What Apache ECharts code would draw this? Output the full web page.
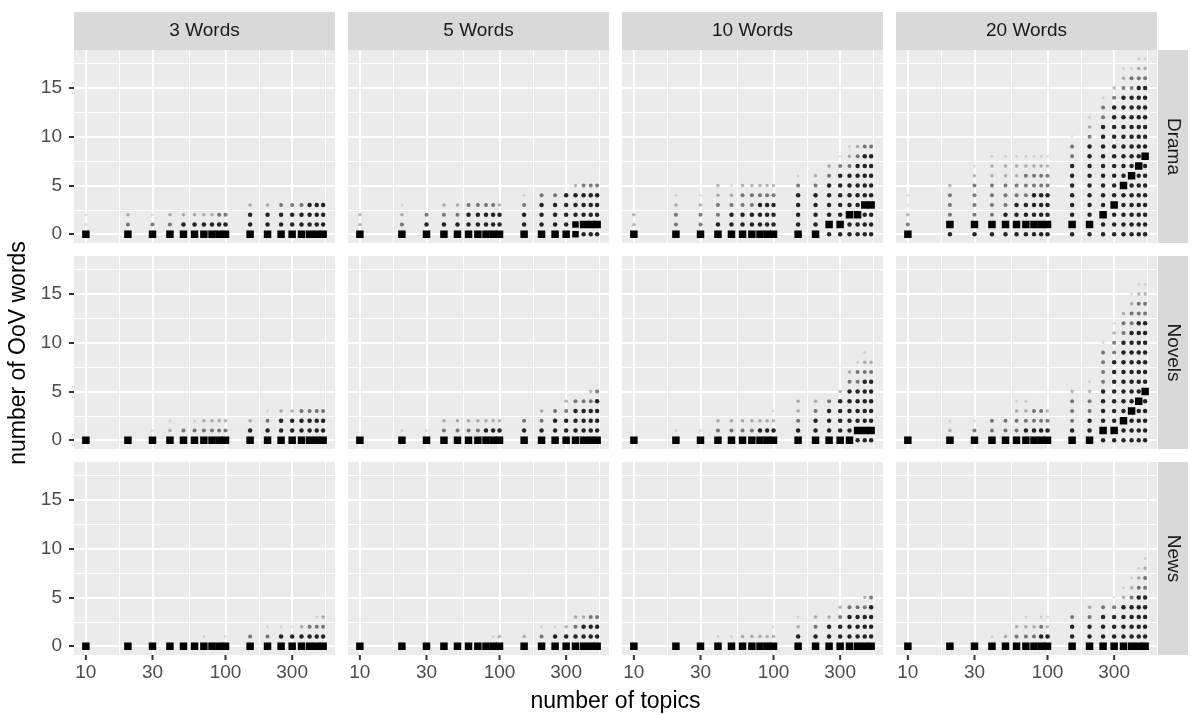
<!DOCTYPE html>
<html>
<head>
<meta charset="utf-8">
<script src="https://cdn.jsdelivr.net/npm/echarts@6.0.0/dist/echarts.min.js"></script>
<style>
  html, body { margin: 0; padding: 0; background: #fff; }
  #chart { width: 1192px; height: 715px; }
</style>
</head>
<body>
<div id="chart"></div>
<script>
// number of topics (x) and the facet labels
const topics = [10, 20, 30, 40, 50, 60, 70, 80, 90, 100, 150, 200, 250, 300, 350, 400, 450, 500];
const xTicks = [10, 30, 100, 300];
const xMinor = [17.32, 54.77, 173.2, 519.6];
const yTicks = [0, 5, 10, 15];
const yMinor = [2.5, 7.5, 12.5, 17.5];
const wordCols = ['3 Words', '5 Words', '10 Words', '20 Words'];
const corpora = ['Drama', 'Novels', 'News'];

// one string per number of topics; char k = how often k OoV words occur
// 0 none, 1 very rare ... 4 common, 5/6 most frequent (big square)
const drama3 = ['611', '632', '631', '632', '642', '642', '642', '642', '643', '643',
  '6442', '6442', '6443', '6443', '6443', '6444', '6444', '6444'];
const drama5 = ['622', '6321', '643', '6432', '6432', '6443', '6443', '6443', '6443', '6442',
  '64431', '64443', '64443', '64444', '554442', '464443', '464443', '464443'];
const drama10 = ['622', '63321', '63321', '643322', '644321', '644332', '644332', '644432', '644432', '644432',
  '6444431', '6444432', '46444432', '464444431', '4464444321', '4464444432', '4446444443', '4446444443'];
const drama20 = ['63211', '463332', '46333321', '463333221', '464333221', '464433221', '464433321', '464443321', '464443321', '464443321',
  '46444444331', '4644444444321', '446444444444331', '4446444444444432', '444446444444444321',
  '444444644444444331', '4444444644444444321', '4444444464444444321'];
const novels3 = ['6', '6', '61', '621', '63', '631', '632', '632', '632', '632',
  '642', '6431', '6442', '6442', '6443', '6443', '6443', '6443'];
const novels5 = ['6', '61', '61', '632', '632', '632', '632', '642', '642', '642',
  '643', '6432', '6443', '64432', '64443', '64443', '644432', '644443'];
const novels10 = ['6', '61', '61', '632', '632', '632', '632', '642', '642', '6421',
  '64322', '64432', '64443', '644442', '64444432', '464444331', '4644444321', '464444432'];
const novels20 = ['6', '621', '631', '633', '633', '63321', '64321', '6433', '6433', '6432',
  '643332', '6443321', '46444433331', '4644444443321', '44644444444332',
  '4446444444443321', '44446444444443321', '44444644444443321'];
const news3 = ['6', '6', '6', '6', '6', '6', '61', '6', '6', '61',
  '63', '631', '641', '641', '642', '643', '6431', '6432'];
const news5 = ['6', '6', '6', '6', '6', '6', '6', '6', '61', '62',
  '62', '631', '641', '642', '6432', '6442', '6443', '6443'];
const news10 = ['6', '6', '6', '61', '61', '62', '62', '62', '62', '621',
  '6421', '6432', '6442', '64432', '64443', '64443', '644432', '644443'];
const news20 = ['6', '6', '6', '61', '62', '632', '6321', '632', '6431', '6421',
  '6443', '64432', '64443', '644431', '6444421', '64444321', '644444321', '6444443321'];

const panels = [drama3, drama5, drama10, drama20, novels3, novels5, novels10, novels20, news3, news5, news10, news20];

// layout
const colLeft = [74, 348, 622, 896];
const rowTop = [50, 256, 462];
const panelW = 261, panelH = 193;
const font = 'Liberation Sans, Arial, sans-serif';

const levelSize = { 1: 3, 2: 3.5, 3: 4, 4: 4.5, 5: 6.5, 6: 7.5 };
const levelAlpha = { 1: 0.12, 2: 0.28, 3: 0.5, 4: 0.85, 5: 1, 6: 1 };

function pointsFor(cols) {
  const items = [];
  cols.forEach((s, i) => {
    for (let k = 0; k < s.length; k++) {
      const lvl = +s[k];
      if (lvl > 0) items.push({ lvl, value: [topics[i], k] });
    }
  });
  items.sort((a, b) => a.lvl - b.lvl);
  return items.map(d => ({
    value: d.value,
    symbol: d.lvl >= 5 ? 'rect' : 'circle',
    symbolSize: levelSize[d.lvl],
    itemStyle: { color: '#000', opacity: levelAlpha[d.lvl] }
  }));
}

const grids = [], xAxes = [], yAxes = [], series = [], graphics = [];

panels.forEach((cols, i) => {
  const r = Math.floor(i / 4), c = i % 4;
  grids.push({
    left: colLeft[c], top: rowTop[r], width: panelW, height: panelH,
    show: true, backgroundColor: '#EBEBEB', borderWidth: 0
  });
  xAxes.push({
    type: 'log', logBase: 10, gridIndex: i, min: 8.222, max: 608.1,
    axisLine: { show: false }, splitLine: { show: false }, axisTick: { show: false },
    axisLabel: { show: r === 2, customValues: xTicks, color: '#4D4D4D', fontSize: 19, fontFamily: font, margin: 8 }
  });
  yAxes.push({
    type: 'value', gridIndex: i, min: -0.9, max: 18.9,
    axisLine: { show: false }, splitLine: { show: false },
    axisTick: { show: c === 0, customValues: yTicks, length: 5, lineStyle: { color: '#333', width: 2 } },
    axisLabel: { show: c === 0, customValues: yTicks, color: '#4D4D4D', fontSize: 19, fontFamily: font, margin: 12 }
  });
  // grid lines
  const lines = [];
  xTicks.forEach(v => lines.push({ xAxis: v, lineStyle: { width: 2 } }));
  xMinor.forEach(v => lines.push({ xAxis: v, lineStyle: { width: 1 } }));
  yTicks.forEach(v => lines.push({ yAxis: v, lineStyle: { width: 2 } }));
  yMinor.forEach(v => lines.push({ yAxis: v, lineStyle: { width: 1 } }));
  series.push({
    type: 'scatter', xAxisIndex: i, yAxisIndex: i, data: [], z: 1, silent: true,
    markLine: {
      silent: true, symbol: 'none', animation: false, label: { show: false },
      lineStyle: { color: '#fff', type: 'solid' }, emphasis: { disabled: true },
      data: lines
    }
  });
  series.push({
    type: 'scatter', xAxisIndex: i, yAxisIndex: i, z: 5, silent: true,
    data: pointsFor(cols)
  });
});

// facet strips
wordCols.forEach((t, c) => {
  graphics.push({ type: 'rect', shape: { x: colLeft[c], y: 12, width: panelW, height: 38 }, style: { fill: '#D9D9D9' } });
  graphics.push({ type: 'text', x: colLeft[c] + panelW / 2, y: 31,
    style: { text: t, fill: '#1A1A1A', font: '19px ' + font, align: 'center', verticalAlign: 'middle' } });
});
corpora.forEach((t, r) => {
  graphics.push({ type: 'rect', shape: { x: 1158, y: rowTop[r], width: 30, height: panelH }, style: { fill: '#D9D9D9' } });
  graphics.push({ type: 'text', x: 1173, y: rowTop[r] + panelH / 2, rotation: -Math.PI / 2,
    style: { text: t, fill: '#1A1A1A', font: '19px ' + font, align: 'center', verticalAlign: 'middle' } });
});
// axis titles
graphics.push({ type: 'text', x: 615.5, y: 702,
  style: { text: 'number of topics', fill: '#000', font: '23px ' + font, align: 'center', verticalAlign: 'middle' } });
graphics.push({ type: 'text', x: 19, y: 353, rotation: Math.PI / 2,
  style: { text: 'number of OoV words', fill: '#000', font: '23px ' + font, align: 'center', verticalAlign: 'middle' } });

const chart = echarts.init(document.getElementById('chart'));
chart.setOption({
  animation: false,
  backgroundColor: '#fff',
  grid: grids,
  xAxis: xAxes,
  yAxis: yAxes,
  series: series,
  graphic: graphics
});

// x ticks of the bottom row, placed through the log axes
const bottom = rowTop[2] + panelH;
[8, 9, 10, 11].forEach(i => {
  xTicks.forEach(v => {
    const px = chart.convertToPixel({ xAxisIndex: i }, v);
    graphics.push({ type: 'line', shape: { x1: px, y1: bottom, x2: px, y2: bottom + 5 },
      style: { stroke: '#333', lineWidth: 2 } });
  });
});
chart.setOption({ graphic: graphics });

window.addEventListener('resize', () => chart.resize());
</script>
</body>
</html>
